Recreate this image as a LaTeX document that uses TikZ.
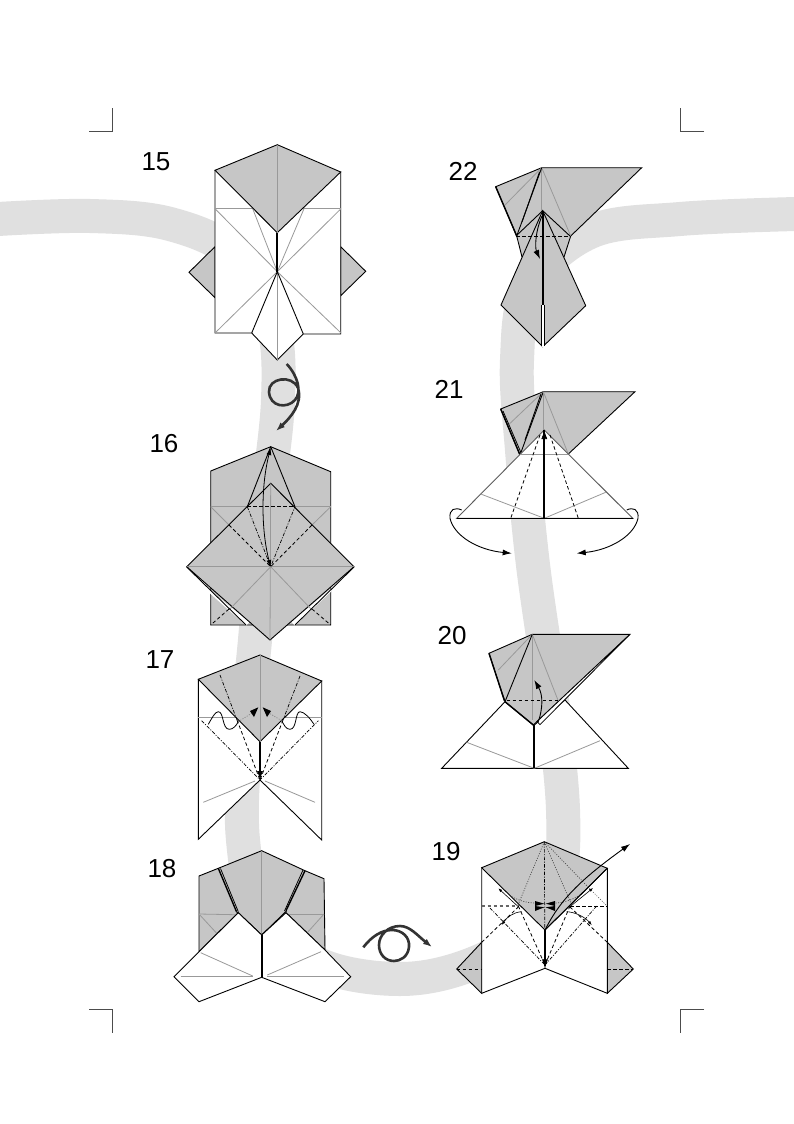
\documentclass[tikz,border=0pt]{standalone}
\usepackage{fontspec}
\setmainfont{Liberation Sans}
\usetikzlibrary{arrows.meta}
\definecolor{bandc}{HTML}{E0E0E0}
\definecolor{paperc}{HTML}{C6C6C6}
\definecolor{creasec}{HTML}{999999}
\definecolor{twistc}{HTML}{333333}
\tikzset{
  x=1pt,y=-1pt,
  band/.style={bandc,line width=34pt,line cap=butt},
  crop/.style={line width=0.5pt,black!70},
  grayf/.style={fill=paperc,draw=black,line width=0.9pt,line join=miter},
  whitef/.style={fill=white,draw=black,line width=0.9pt,line join=miter},
  fold/.style={black,line width=0.9pt},
  heavy/.style={black,line width=2pt},
  crease/.style={creasec,line width=0.8pt},
  valley/.style={black,line width=0.8pt,dash pattern=on 3.5pt off 2.5pt},
  mountain/.style={black,line width=0.7pt,dash pattern=on 3.5pt off 1.5pt on 1pt off 1.5pt},
  dotline/.style={black!70,line width=0.7pt,dash pattern=on 1pt off 1.5pt},
  arrow/.style={black,line width=0.9pt,-{Latex[length=9pt,width=6pt]}},
  smallarrow/.style={black,line width=0.6pt,-{Latex[length=4pt,width=3pt]}},
  twoarrow/.style={black,line width=0.8pt,{Latex[length=7pt,width=5pt]}-{Latex[length=7pt,width=5pt]}},
  twist/.style={twistc,line width=2.6pt,-{Latex[length=9pt,width=6.5pt]}},
  num/.style={font=\fontsize{26}{26}\selectfont,inner sep=0pt,anchor=center}
}
\begin{document}
\begin{tikzpicture}
\useasboundingbox (0,0) rectangle (794,1124);
\fill[white] (0,0) rectangle (794,1124);
% background band
\draw[band] plot[smooth,tension=0.6] coordinates {(-2,219) (90,216) (170,224) (235,255) (272,320) (278,400) (265,520) (255,640) (245,745) (243,840) (262,920) (320,965) (400,979) (470,965) (530,930) (558,880) (563,810) (552,700) (533,565) (522,450) (517,360) (530,285) (590,232) (680,219) (796,214)};
% crop marks
\draw[crop] (89,131)--(112,131)--(112,108);
\draw[crop] (704,131)--(680,131)--(680,108);
\draw[crop] (89,1009)--(112,1009)--(112,1033);
\draw[crop] (704,1009)--(680,1009)--(680,1033);
% numbers
\node[num] (n15) at (156,162) {15};
\node[num] (n16) at (164,444) {16};
\node[num] (n17) at (160,660) {17};
\node[num] (n18) at (162,869) {18};
\node[num] (n19) at (446,852) {19};
\node[num] (n20) at (452,636) {20};
\node[num] (n21) at (449,389) {21};
\node[num] (n22) at (463,171) {22};

% ===== 15 =====
\draw[grayf] (215,246.7)--(189,272.3)--(215,297.7)--cycle;
\draw[grayf] (340.7,246.7)--(365.7,271.3)--(340.7,295.7)--cycle;
\draw[whitef] (215,170.3)--(215,333)--(251.7,333)--(277.3,360)--(303.3,334)--(340.7,334)--(340.7,172)--cycle;
\draw[crease] (215,208.7)--(341,208.7);
\draw[crease] (215,208.7)--(277.3,271.7)--(341,208.7);
\draw[crease] (215,333)--(277.3,271.7)--(341,333);
\draw[crease] (252.7,208.7)--(277.3,271.7)--(304,208.7);
\draw[crease] (277.3,271.7)--(277.3,360);
\draw[fold] (251.7,333)--(277.3,271.7)--(303.3,334);
\draw[grayf] (277.3,144.7)--(215,170.3)--(277.3,232.7)--(340.7,172)--cycle;
\draw[crease] (277.3,144.7)--(277.3,232.7);
\draw[heavy] (277.3,232.7)--(277.3,271.7);
\draw[twist] (286.7,364) .. controls (298,376) and (302,392) .. (295,400) .. controls (287,409) and (270,407) .. (269,392) .. controls (268,378) and (292,374) .. (298,388) .. controls (303,404) and (290,418) .. (276,431);

% ===== 16 =====
\draw[grayf] (270.7,446.7)--(210.7,471)--(210.7,625)--(330.7,625)--(330.7,471.7)--cycle;
\draw[crease] (210.7,506.7)--(330.7,506.7);
\draw[crease] (210.7,506.7)--(229,525);
\draw[crease] (330.7,506.7)--(312,525);
\fill[white] (208,589)--(249.5,622)--(246,625.5)--(205,589)--cycle;
\fill[white] (335,585)--(291.5,622)--(295,625.5)--(338,585)--cycle;
\draw[grayf] (270.7,483.3)--(186.7,566.7)--(270,640)--(354,566.7)--cycle;
\draw[crease] (186.7,566.7)--(354,566.7);
\draw[crease] (270.7,483.3)--(270,640);
\draw[crease] (270.7,566.7)--(229,610);
\draw[crease] (270.7,566.7)--(312,610);
\draw[fold] (186.7,567)--(246,625);
\draw[fold] (354,567)--(295,625);
\draw[valley] (229,609)--(210.7,625);
\draw[valley] (312,609)--(330.7,625);
\draw[fold] (270.7,446.7)--(247.3,506.7);
\draw[fold] (270.7,446.7)--(295,506.7);
\draw[valley] (247.3,506.7)--(295,506.7);
\draw[valley] (229,525)--(270.7,566.7)--(312,525);
\draw[mountain] (247.3,506.7)--(270.7,566.7)--(295,506.7);
\draw[twoarrow] (270.7,567) .. controls (261,530) and (261,485) .. (270.7,448);

% ===== 17 =====
\draw[whitef] (198.3,679.3)--(198.3,839.3)--(260,780)--(321.7,840)--(321.7,681)--cycle;
\draw[crease] (198.3,717.3)--(321.7,717.3);
\draw[crease] (255,781)--(203.3,802.3);
\draw[crease] (265,781)--(315,802.3);
\draw[grayf] (260,655)--(198.3,679.3)--(260,741.7)--(321.7,681)--cycle;
\draw[crease] (260,655)--(260,741.7);
\draw[crease] (198.3,717.3)--(220,717.3);
\draw[crease] (300,717.3)--(321.7,717.3);
\draw[mountain] (220,675)--(237,720);
\draw[mountain] (300,676)--(283,720);
\draw[valley] (237,720)--(260,780);
\draw[valley] (283,720)--(260,780);
\draw[mountain] (201.7,720.7)--(260,780)--(318.3,720.7);
\draw[dotline,black!50] (238.3,721.7)--(252,713);
\draw[dotline,black!50] (281.7,720.7)--(269,713);
\draw[heavy] (260,741.7)--(260,775);
\draw[arrow] (260,760)--(260,780);
\draw[fold,line width=0.8pt] (208.3,724.3) .. controls (212,718) and (215,711.7) .. (218.3,711.7) .. controls (224,711.7) and (222,729.3) .. (229.3,729.3) .. controls (233,729.3) and (236,726) .. (238.3,721.7);
\draw[fold,line width=0.8pt] (314,724.3) .. controls (310,718) and (304,711.7) .. (300,711.7) .. controls (295,711.7) and (297,729.3) .. (290,729.3) .. controls (286,729.3) and (284,725) .. (281.7,720.7);
\fill[black] (258.3,707.3)--(250,711)--(254,717)--cycle;
\fill[black] (262.7,707.3)--(271,711)--(267,717)--cycle;

% ===== 18 =====
\draw[grayf] (199,876)--(218.3,868.3)--(261.7,850.7)--(305,870.7)--(324,878.7)--(325,950)--(286,912.7)--(261.7,935)--(238.3,912.7)--(199,951.7)--cycle;
\draw[crease] (261.7,850.7)--(261.7,935);
\draw[crease] (199,914)--(235,914.7);
\draw[crease] (199,914)--(216.7,933.3);
\draw[crease] (324,914)--(288,914);
\draw[crease] (324,914)--(306.7,933.3);
\draw[fold,line width=1.4pt] (218.3,868.3)--(236.5,911.7);
\draw[fold,line width=0.8pt] (220.5,868.5)--(238.3,911.7);
\draw[fold,line width=1.4pt] (305,870.7)--(286,910.7);
\draw[fold,line width=0.8pt] (303,870)--(284.5,911);
\draw[fold] (236.5,911.7)--(261.7,935)--(286.7,910.7);
\draw[whitef] (238.3,912.7)--(199,951.7)--(174,976.7)--(199,1001.7)--(261.7,977.3)--(261.7,935)--cycle;
\draw[whitef] (286,912.7)--(325,950)--(350.7,976.7)--(325,1001.7)--(261.7,977.3)--(261.7,935)--cycle;
\draw[crease] (200.7,952.7)--(252.7,976);
\draw[crease] (180.7,976.7)--(252.7,976.7);
\draw[crease] (321,951.7)--(267.3,975);
\draw[crease] (267.3,976.7)--(344,976.7);
\draw[heavy] (261.7,935)--(261.7,977.3);
\draw[twist] (363.3,947.3) .. controls (372,936) and (382,930) .. (392,930) .. controls (402,930) and (410,937) .. (409,947) .. controls (408,957) and (400,961) .. (394,961) .. controls (385,961) and (379,954) .. (379,945) .. controls (379,935) and (388,926) .. (400,926) .. controls (410,926) and (418,936) .. (432,947);

% ===== 19 =====
\draw[grayf] (481.7,942.3)--(456.7,969)--(481.7,993.3)--cycle;
\draw[grayf] (607.3,942.3)--(633.3,969)--(607.3,993.3)--cycle;
\draw[whitef] (481.7,867.7)--(481.7,993.3)--(545,968.3)--(607.3,993.3)--(607.3,868.3)--cycle;
\draw[valley] (456.7,969)--(481.7,969);
\draw[valley] (607.3,969)--(633.3,969);
\draw[grayf] (544.3,841.7)--(481.7,867.7)--(545,930)--(607.3,868.3)--cycle;
\draw[valley,black!60,line width=1.2pt] (481.7,906)--(518.3,906);
\draw[valley] (570,906)--(607.3,906);
\draw[dotline] (511.7,896.7) .. controls (520,901) and (528,903) .. (535,903);
\draw[dotline] (580,895) .. controls (572,900) and (563,903) .. (555,903);
\draw[dotline] (544.3,841.7)--(518,905);
\draw[dotline] (544.3,841.7)--(571.7,905);
\draw[dotline] (544.3,841.7)--(590,889)--(607,906);
\draw[mountain] (544.3,841.7)--(545,968.3);
\draw[valley] (518.3,906)--(545,965);
\draw[valley] (570,906)--(545,965);
\draw[valley] (481.7,942.3)--(518.3,907);
\draw[valley] (607.3,942.3)--(570,907);
\draw[mountain] (490,908)--(545,965);
\draw[mountain] (596.7,906)--(545,965);
\draw[smallarrow] (521.7,911.7) .. controls (514,912) and (507,917) .. (501.7,925);
\draw[smallarrow] (566.7,911.7) .. controls (575,912) and (585,917) .. (591.7,925);
\draw[smallarrow] (518.3,906.7) -- (498.3,888.3);
\draw[smallarrow] (570,906.7) -- (593,888);
\fill[black] (544.3,903.7)--(535,901)--(535,906)--cycle;
\fill[black] (544.3,907.3)--(535,906)--(535,911)--cycle;
\fill[black] (545.7,903.7)--(555,901)--(555,906)--cycle;
\fill[black] (545.7,907.3)--(555,906)--(555,911)--cycle;
\draw[heavy] (545,930)--(545,966);
\draw[arrow,line width=0.7pt] (545,955)--(545,968.3);
\draw[fold] (545,930)--(607.3,868.3);
\draw[arrow,line width=0.9pt] (545,930) .. controls (560,900) and (580,880) .. (630,844);

% ===== 20 =====
\draw[whitef] (505,701.7)--(441.7,768.3)--(534.3,768.3)--(534.3,725)--cycle;
\draw[whitef] (565,700)--(628.3,768.3)--(534.3,768.3)--(534.3,725)--cycle;
\draw[crease] (466.7,742.3)--(534.3,768.3);
\draw[crease] (600,740.7)--(534.3,768.3);
\draw[grayf] (532.3,634.3)--(630,634.3)--(537,721.5)--(533.3,725)--(505,701.7)--(489,653.3)--cycle;
\fill[white] (630,634.3)--(540,724.6)--(537,721.5)--cycle;
\draw[fold,line width=0.8pt] (630,634.3)--(540,724.6)--(537,721.5)--cycle;
\draw[crease] (532.3,634.3)--(532.3,720);
\draw[crease] (532.3,634.3)--(558.3,701);
\draw[crease] (532.3,634.3)--(498.3,670);
\draw[fold] (532.3,634.3)--(505,701.7);
\draw[valley] (506.7,700.7)--(558.3,700.7);
\draw[fold,line width=1.4pt] (489,653.3)--(504.5,701);
\draw[fold,line width=1.4pt] (505,701.7)--(533.3,725);
\draw[heavy] (534.3,725)--(534.3,768.3);
\draw[arrow] (538.3,721.7) .. controls (543,708) and (543,695) .. (534.3,680);

% ===== 21 =====
\draw[grayf] (543.3,391.7)--(635,391.7)--(568.3,454)--(520,455)--(500.7,409)--cycle;
\draw[crease] (543.3,391.7)--(568.3,454);
\draw[crease] (543.3,391.7)--(508.3,425);
\draw[fold,line width=1.4pt] (500.7,409)--(520,455);
\draw[fold,line width=0.8pt] (503,411)--(522,455);
\draw[fold] (543.3,391.7)--(520,455);
\draw[fold] (541,394)--(525,440);
\draw[whitef,draw=creasec!60!black] (544.3,430)--(456.7,518.3)--(632.7,518.3)--cycle;
\draw[crease] (543.3,391.7)--(543.3,430);
\draw[crease] (520,454.3)--(568.3,454.3);
\draw[crease] (480.7,494)--(544.3,518.3);
\draw[crease] (605.7,492.3)--(544.3,518.3);
\draw[fold] (456.7,518.3)--(632.7,518.3);
\draw[valley] (540,435)--(510.7,518.3);
\draw[valley] (550,435)--(578.3,518.3);
\draw[heavy] (544.3,430)--(544.3,518.3);
\draw[arrow,line width=0.7pt] (544.3,440)--(544.3,430);
\draw[arrow] (461.7,510) .. controls (455,507) and (449,509) .. (450,518.3) .. controls (454,536) and (478,550) .. (511.7,553.3);
\draw[arrow] (626.7,510) .. controls (633,507) and (639,509) .. (638,518.3) .. controls (634,536) and (610,550) .. (576.7,553.3);

% ===== 22 =====
\draw[grayf] (541.7,167.7)--(641.7,167.7)--(570.7,236)--(564,257)--(522,257)--(516.7,236)--(495.7,186.7)--cycle;
\draw[crease] (541.7,167.7)--(570.7,236);
\draw[crease] (541.7,167.7)--(505,205);
\draw[crease] (541.7,167.7)--(541.7,212);
\draw[fold,line width=1.4pt] (495.7,186.7)--(516.7,236);
\draw[fold] (541.7,167.7)--(516.7,236);
\draw[fold] (539.5,172)--(522,222);
\draw[grayf] (542.7,210.7)--(501,305)--(542.7,346.7)--(585.7,305.7)--cycle;
\draw[fold] (516,236)--(542.7,210.7)--(570,236);
\draw[valley] (516,236)--(570,236);
\fill[white] (541.7,305)--(544,305)--(544,347)--(541.7,347)--cycle;
\draw[fold,line width=0.6pt] (541,305)--(541,346);
\draw[fold,line width=0.6pt] (544.5,305)--(544.5,346);
\draw[heavy] (542.7,210.7)--(542.7,305);
\draw[arrow] (542,216) .. controls (535,232) and (535,248) .. (540,259);
\end{tikzpicture}
\end{document}
